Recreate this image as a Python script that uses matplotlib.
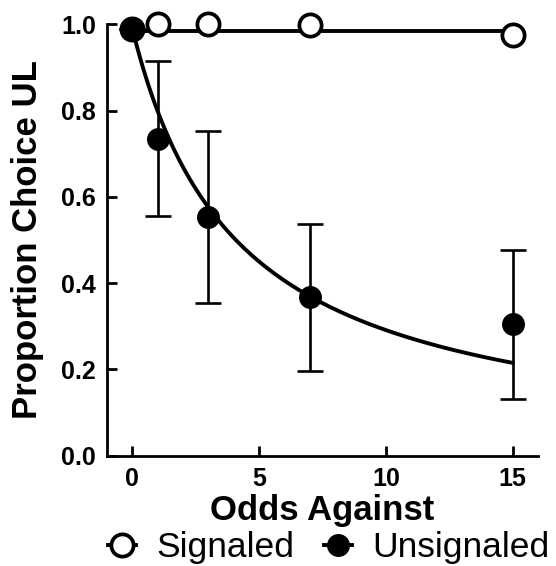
import numpy as np
import matplotlib
matplotlib.use("Agg")
import matplotlib.pyplot as plt
from matplotlib.lines import Line2D

# Data
odds = [0, 1, 3, 7, 15]
signaled = [0.99, 1.0, 1.0, 0.998, 0.976]
unsignaled = [0.99, 0.735, 0.553, 0.367, 0.305]
unsig_err = [0.0, 0.18, 0.199, 0.171, 0.173]
signaled_fit_level = 0.985
# hyperbolic fit parameters
fit_a = 0.99
fit_k = 0.24

plt.rcParams['font.family'] = ['Liberation Sans', 'DejaVu Sans']

fig = plt.figure(figsize=(5.56, 5.66), dpi=100)
ax = fig.add_axes([0.1924, 0.1949, 0.9676 - 0.1924, 0.957 - 0.1949])

xf = np.linspace(0, 15, 200)
ax.plot([0, 15], [signaled_fit_level, signaled_fit_level], color='black', lw=2.8, zorder=2, clip_on=False)
ax.plot(xf, fit_a / (1 + fit_k * xf), color='black', lw=2.8, zorder=2, clip_on=False)

ax.errorbar(odds, unsignaled, yerr=unsig_err, fmt='none', ecolor='black', elinewidth=1.9,
            capsize=9.5, capthick=1.9, zorder=3, clip_on=False)
ax.plot(odds, signaled, 'o', ms=16, mfc='white', mec='black', mew=2.7, zorder=4, clip_on=False)
ax.plot(odds, unsignaled, 'o', ms=15.5, mfc='black', mec='black', mew=1, zorder=5, clip_on=False)

ax.set_xlim(-1, 16)
ax.set_ylim(0, 1.0)
ax.set_xticks([0, 5, 10, 15])
ax.set_yticks([0.0, 0.2, 0.4, 0.6, 0.8, 1.0])
ax.set_yticklabels(['0.0', '0.2', '0.4', '0.6', '0.8', '1.0'])
for s in ['top', 'right']:
    ax.spines[s].set_visible(False)
for s in ['left', 'bottom']:
    ax.spines[s].set_linewidth(2.0)
ax.tick_params(direction='in', length=7, width=2.0, labelsize=18, pad=8)
for lab in ax.get_xticklabels() + ax.get_yticklabels():
    lab.set_fontweight('bold')

ax.set_xlabel('Odds Against', fontsize=25, fontweight='bold', labelpad=2)
ax.set_ylabel('Proportion Choice UL', fontsize=25, fontweight='bold', labelpad=12)

handles = [
    Line2D([], [], color='black', lw=2.8, marker='o', ms=16, mfc='white', mec='black', mew=2.7),
    Line2D([], [], color='black', lw=2.8, marker='o', ms=15.5, mfc='black', mec='black'),
]
fig.legend(handles, ['Signaled', 'Unsignaled'], loc='center', bbox_to_anchor=(0.591, 0.032),
           ncol=2, frameon=False, fontsize=25.5, handlelength=0.8, handletextpad=0.55,
           columnspacing=0.85, borderaxespad=0, borderpad=0)

fig.savefig('out.png', dpi=100)
